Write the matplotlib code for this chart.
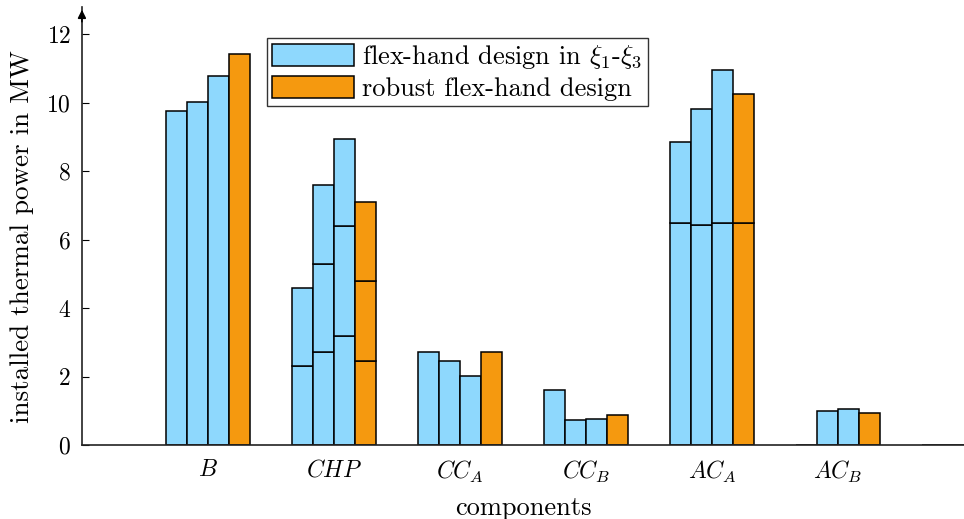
import numpy as np
import matplotlib
matplotlib.use("Agg")
import matplotlib.pyplot as plt
from matplotlib.patches import Patch

plt.rcParams['font.family'] = 'serif'
plt.rcParams['font.serif'] = ['cmr10', 'DejaVu Serif']
plt.rcParams['mathtext.fontset'] = 'cm'
plt.rcParams['axes.formatter.use_mathtext'] = True

# composants (le dernier groupe est vide)
categories = ['$B$', '$CHP$', '$CC_A$', '$CC_B$', '$AC_A$', '$AC_B$', '']

# niveaux cumulés de chaque segment empilé, en MW
xi1 = [[9.76], [2.31, 4.60], [2.72], [1.61], [6.50, 8.84], [0.0], [0.0]]
xi2 = [[10.02], [2.72, 5.28, 7.59], [2.45], [0.73], [6.42, 9.81], [0.99], [0.0]]
xi3 = [[10.79], [3.19, 6.39, 8.93], [2.02], [0.77], [6.50, 10.97], [1.04], [0.0]]
robust = [[11.42], [2.45, 4.79, 7.09], [2.72], [0.88], [6.50, 10.27], [0.94], [0.0]]

designs = [xi1, xi2, xi3, robust]
c_blue = '#8ED8FD'
c_orange = '#F5990F'
colors = [c_blue, c_blue, c_blue, c_orange]

fig = plt.figure(figsize=(9.64, 5.19), dpi=100)
ax = fig.add_axes([0.085, 0.1426, 0.915, 0.844])

w = 0.165
x = np.arange(1, len(categories) + 1)
for j, (d, col) in enumerate(zip(designs, colors)):
    xpos = x + (j - 1.5) * w
    for i, levels in enumerate(d):
        levels = np.array(levels)
        heights = np.diff(np.concatenate([[0], levels]))
        bottoms = levels - heights
        for h, b in zip(heights, bottoms):
            ax.bar(xpos[i], h, w, bottom=b, color=col, edgecolor='black', linewidth=1.1)

ax.set_xlim(0, 6.94)
ax.set_ylim(0, 12.8)
ax.set_yticks(np.arange(0, 13, 2))
ax.set_xticks(x)
ax.set_xticklabels(categories, fontsize=17)
ax.tick_params(axis='x', length=0, pad=10)
ax.tick_params(axis='y', direction='in', length=5, labelsize=17, pad=8)
ax.set_xlabel("components", fontsize=19, labelpad=8)
ax.set_ylabel("installed thermal power in MW", fontsize=19.5, labelpad=9)
ax.yaxis.label.set_y(0.475)

for s in ['top', 'right']:
    ax.spines[s].set_visible(False)
for s in ['left', 'bottom']:
    ax.spines[s].set_linewidth(1.2)
    ax.spines[s].set_color('#222222')

# flèche en haut de l'axe y
ax.annotate('', xy=(0, 1.0), xytext=(0, 0.96), xycoords='axes fraction',
            arrowprops=dict(arrowstyle='-|>', color='black', lw=1.2, mutation_scale=12))

handles = [Patch(facecolor=c_blue, edgecolor='black', linewidth=1.1),
           Patch(facecolor=c_orange, edgecolor='black', linewidth=1.1)]
labels = [r"flex-hand design in $\xi_1$-$\xi_3$", "robust flex-hand design"]
leg = ax.legend(handles, labels, loc='upper left', bbox_to_anchor=(0.21, 0.93),
                fontsize=19, handlelength=3.1, handleheight=0.9, fancybox=False,
                borderpad=0.2, labelspacing=0.2, handletextpad=0.3, borderaxespad=0)
leg.get_frame().set_edgecolor('black')
leg.get_frame().set_linewidth(1.0)

plt.savefig("out.png", dpi=100)
